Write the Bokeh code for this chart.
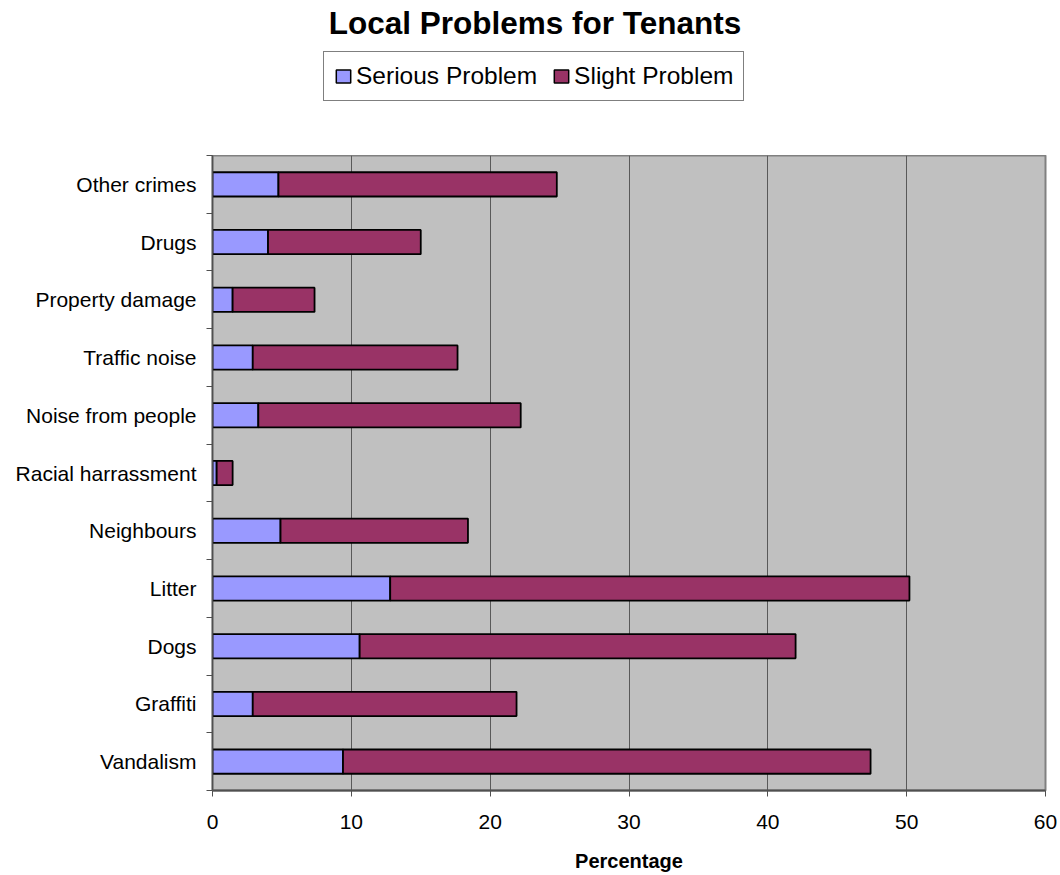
import numpy as np
from bokeh.plotting import figure
from bokeh.layouts import column
from bokeh.models import (Range1d, FixedTicker, Label, Legend, LegendItem,
                          ColumnDataSource, NumeralTickFormatter)
from bokeh.embed import file_html
from bokeh.resources import INLINE

# ---- data (bottom to top) ----
categories = ["Vandalism", "Graffiti", "Dogs", "Litter", "Neighbours",
              "Racial harrassment", "Noise from people", "Traffic noise",
              "Property damage", "Drugs", "Other crimes"]
serious = [9.4, 2.9, 10.6, 12.8, 4.9, 0.3, 3.3, 2.9, 1.45, 4.0, 4.75]
slight = [38.0, 19.0, 31.4, 37.4, 13.5, 1.15, 18.9, 14.75, 5.9, 11.0, 20.05]
series_names = ["Serious Problem", "Slight Problem"]
series_colors = ["#9999FF", "#993366"]
x_ticks = [0, 10, 20, 30, 40, 50, 60]
chart_title = "Local Problems for Tenants"

FONT = "Liberation Sans"
W = 1060
LEFT, FW, FH = 212, 833, 635
RIGHT = W - LEFT - FW
pos = [i + 0.5 for i in range(len(categories))]
src = ColumnDataSource(dict(pos=pos, serious=serious, slight=slight, cat=categories))

# ---------------- header figure (title + legend) ----------------
HEAD_H = 155
head = figure(frame_width=FW, frame_height=HEAD_H,
              min_border_left=LEFT, min_border_right=RIGHT,
              min_border_top=0, min_border_bottom=0,
              x_range=Range1d(0, FW), y_range=Range1d(HEAD_H, 0),
              output_backend="svg", toolbar_location=None, tools="",
              x_axis_location=None, y_axis_location=None)
head.grid.visible = False
head.outline_line_color = None
head.background_fill_color = "white"
head.border_fill_color = "white"

head.add_layout(Label(x=534.5 - LEFT, y=22, text=chart_title,
                      text_align="center", text_baseline="middle",
                      text_font=FONT, text_font_size="31.5px", text_font_style="bold",
                      text_color="black"))

# legend-only renderers (nothing visible is drawn by them)
empty = ColumnDataSource(dict(y=np.array([np.nan]), left=np.array([np.nan]),
                              right=np.array([np.nan])))
dummy = [head.hbar(y="y", left="left", right="right", height=1, source=empty,
                   fill_color=c, line_color="black", line_width=1.5)
         for c in series_colors]
legend = Legend(items=[LegendItem(label=n, renderers=[r]) for n, r in zip(series_names, dummy)],
                location=(323 - LEFT, HEAD_H - 101), orientation="horizontal",
                label_text_font=FONT, label_text_font_size="24.5px",
                label_text_color="black",
                glyph_width=18, glyph_height=16, label_standoff=4, spacing=15,
                padding=10, margin=0,
                border_line_color="black", border_line_width=1,
                background_fill_color="white", background_fill_alpha=1.0)
head.add_layout(legend, "center")

# ---------------- main chart ----------------
p = figure(frame_width=FW, frame_height=FH,
           min_border_left=LEFT, min_border_right=RIGHT,
           min_border_top=0, min_border_bottom=80,
           x_range=Range1d(0, 60), y_range=Range1d(0, len(categories)),
           output_backend="svg", toolbar_location=None, tools="")

p.background_fill_color = "#C0C0C0"
p.border_fill_color = "white"
p.outline_line_color = "#808080"
p.outline_line_width = 2

rs = p.hbar_stack(["serious", "slight"], y="pos", height=0.42, source=src,
                  color=series_colors, line_color="black", line_width=1.8)

p.ygrid.grid_line_color = None
p.xgrid.ticker = FixedTicker(ticks=x_ticks)
p.xgrid.grid_line_color = "#595959"
p.xgrid.grid_line_width = 1

xa = p.xaxis[0]
xa.ticker = FixedTicker(ticks=x_ticks)
xa.formatter = NumeralTickFormatter(format="0")
xa.axis_line_color = "#505050"
xa.axis_line_width = 2
xa.major_tick_in = 0
xa.major_tick_out = 6
xa.major_tick_line_color = "#505050"
xa.minor_tick_line_color = None
xa.major_label_text_font = FONT
xa.major_label_text_font_size = "21px"
xa.major_label_text_color = "black"
xa.major_label_standoff = 18
xa.axis_label = "Percentage"
xa.axis_label_text_font = FONT
xa.axis_label_text_font_size = "20px"
xa.axis_label_text_font_style = "bold"
xa.axis_label_text_color = "black"
xa.axis_label_standoff = 18

ya = p.yaxis[0]
ya.ticker = FixedTicker(ticks=pos, minor_ticks=list(range(len(categories) + 1)))
ya.major_label_overrides = {pv: c for pv, c in zip(pos, categories)}
ya.axis_line_color = "#505050"
ya.axis_line_width = 1.5
ya.major_tick_in = 0
ya.major_tick_out = 0
ya.minor_tick_in = 0
ya.minor_tick_out = 6
ya.minor_tick_line_color = "#505050"
ya.major_label_text_font = FONT
ya.major_label_text_font_size = "21px"
ya.major_label_text_color = "black"
ya.major_label_standoff = 10

layout = column(head, p, spacing=0)
open("out.html", "w").write(file_html(layout, INLINE))
